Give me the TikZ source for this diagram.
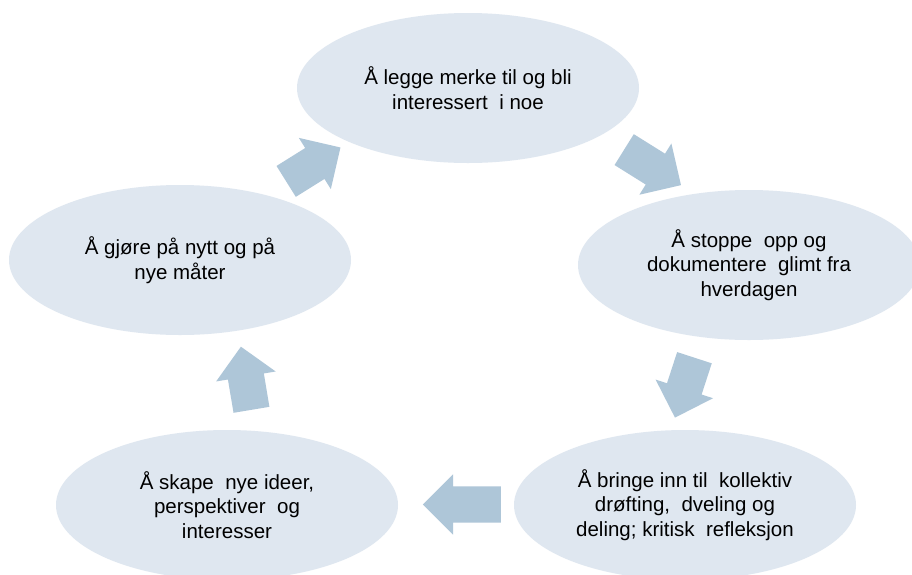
\documentclass[tikz,border=0pt]{standalone}
\usepackage{fontspec}
\setmainfont{Liberation Sans}
\usetikzlibrary{shapes.geometric,shapes.arrows}
\definecolor{ellc}{RGB}{223,231,240}
\definecolor{arrc}{RGB}{174,198,216}
\newcommand{\xsp}{\hspace{0.28em}}
\tikzset{
  stage/.style={shape=ellipse, fill=ellc, draw=none, minimum width=342pt, minimum height=150pt, inner sep=0pt, align=center, font=\fontsize{20.5}{24.5}\selectfont, text=black},
  blockarrow/.style={shape=single arrow, fill=arrc, draw=none, inner xsep=0pt, inner ysep=18pt, minimum height=#1, minimum width=60pt, single arrow head extend=12pt, anchor=tail}
}
\begin{document}
\begin{tikzpicture}[x=1pt,y=-1pt]
\clip (0,0) rectangle (912,574);
\fill[white] (0,0) rectangle (912,574);
\node[stage] (top) at (468,88) {Å legge merke til og bli\\interessert\xsp{} i noe};
\node[stage] (right) at (749,265) {Å stoppe\xsp{} opp og\\dokumentere\xsp{} glimt fra\\hverdagen};
\node[stage] (bright) at (685,505) {Å bringe inn til\xsp{} kollektiv\\drøfting,\xsp{} dveling og\\deling; kritisk\xsp{} refleksjon};
\node[stage] (bleft) at (227,505) {Å skape\xsp{} nye ideer,\\perspektiver\xsp{} og\\interesser};
\node[stage] (left) at (180,260) {Å gjøre på nytt og på\\nye måter};
\node[blockarrow=64pt, rotate=32] (a1) at (286,181.5) {};
\node[blockarrow=67pt, rotate=-32] (a2) at (624,149.5) {};
\node[blockarrow=63pt, rotate=-108] (a3) at (694.5,357.5) {};
\node[blockarrow=78pt, rotate=180] (a4) at (501,504.5) {};
\node[blockarrow=64pt, rotate=99.5] (a5) at (251.5,410) {};
\end{tikzpicture}
\end{document}
